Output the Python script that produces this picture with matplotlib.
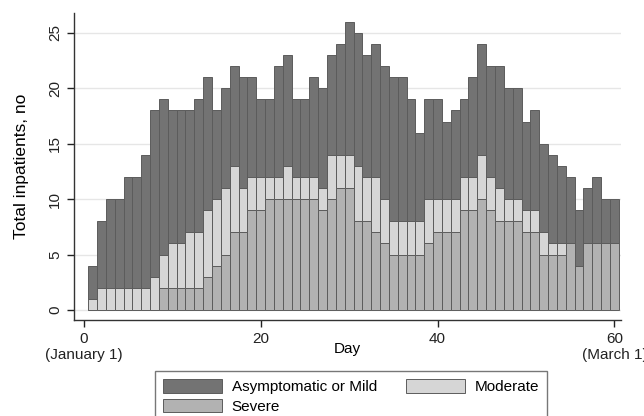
import numpy as np
import matplotlib
matplotlib.use("Agg")
import matplotlib.pyplot as plt

plt.rcParams['font.family'] = ['Liberation Sans', 'DejaVu Sans']

# Day 1..60 (January 1 .. March 1)
days = np.arange(1, 61)
# totals, severe+moderate tops, and severe counts
total = [4, 8, 10, 10, 12, 12, 14, 18, 19, 18,
         18, 18, 19, 21, 18, 20, 22, 21, 21, 19,
         19, 22, 23, 19, 19, 21, 20, 23, 24, 26,
         25, 23, 24, 22, 21, 21, 19, 16, 19, 19,
         17, 18, 19, 21, 24, 22, 22, 20, 20, 17,
         18, 15, 14, 13, 12, 9, 11, 12, 10, 10]
sev_mod = [1, 2, 2, 2, 2, 2, 2, 3, 5, 6,
           6, 7, 7, 9, 10, 11, 13, 11, 12, 12,
           12, 12, 13, 12, 12, 12, 11, 14, 14, 14,
           13, 12, 12, 10, 8, 8, 8, 8, 10, 10,
           10, 10, 12, 12, 14, 12, 11, 10, 10, 9,
           9, 7, 6, 6, 6, 4, 6, 6, 6, 6]
severe = [0, 0, 0, 0, 0, 0, 0, 0, 2, 2,
          2, 2, 2, 3, 4, 5, 7, 7, 9, 9,
          10, 10, 10, 10, 10, 10, 9, 10, 11, 11,
          8, 8, 7, 6, 5, 5, 5, 5, 6, 7,
          7, 7, 9, 9, 10, 9, 8, 8, 8, 7,
          7, 5, 5, 5, 6, 4, 6, 6, 6, 6]

severe = np.array(severe)
moderate = np.array(sev_mod) - severe
mild = np.array(total) - np.array(sev_mod)

c_mild = '#737373'
c_mod = '#d6d6d6'
c_sev = '#b2b2b2'
edge = '#5c5c5c'

fig = plt.figure(figsize=(6.44, 4.16), dpi=100)
ax = fig.add_axes([0.115, 0.231, 0.85, 0.738])

kw = dict(width=1.0, edgecolor=edge, linewidth=0.7, zorder=2)
b_sev = ax.bar(days, severe, color=c_sev, label='Severe', **kw)
b_mod = ax.bar(days, moderate, bottom=severe, color=c_mod, label='Moderate', **kw)
b_mild = ax.bar(days, mild, bottom=severe + moderate, color=c_mild,
                label='Asymptomatic or Mild', **kw)

ax.set_xlim(-1.1, 60.8)
ax.set_ylim(-0.9, 26.8)
ax.set_yticks([0, 5, 10, 15, 20, 25])
ax.set_xticks([0, 20, 40, 60])
ax.set_xticklabels(['0\n(January 1)', '20', '40', '60\n(March 1)'], fontsize=11,
                   linespacing=1.25)
for lab in ax.get_yticklabels():
    lab.set_rotation(90)
    lab.set_va('center')
    lab.set_fontsize(11)
ax.yaxis.grid(True, color='#e6e6e6', linewidth=1.0, zorder=0)
ax.set_axisbelow(True)
for s in ['top', 'right']:
    ax.spines[s].set_visible(False)
for s in ['left', 'bottom']:
    ax.spines[s].set_color('#333333')
    ax.spines[s].set_linewidth(1.0)
ax.tick_params(colors='#222222', length=5, width=1.0)

ax.set_ylabel('Total inpatients, no', fontsize=12.5, labelpad=14)
ax.set_xlabel('Day', fontsize=11, labelpad=-15)

fig.legend(handles=[b_mild, b_sev, b_mod],
           labels=['Asymptomatic or Mild', 'Severe', 'Moderate'],
           ncol=2, loc='upper center', bbox_to_anchor=(0.545, 0.126),
           fontsize=11, frameon=True, fancybox=False, edgecolor='#555555',
           handlelength=3.9, handleheight=1.0, handletextpad=0.6,
           columnspacing=1.9, borderpad=0.5, labelspacing=0.3)

fig.savefig('out.png', dpi=100)
